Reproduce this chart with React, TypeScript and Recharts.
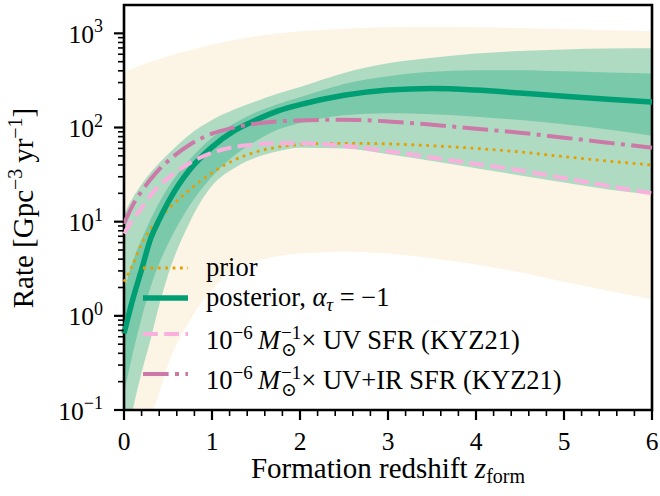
import React from 'react';
import { ComposedChart, Area, Line, XAxis, YAxis, ReferenceArea, Legend } from 'recharts';

// Formation redshift grid
const redshift = [0, 0.1, 0.2, 0.3, 0.4, 0.5, 0.75, 1, 1.25, 1.5, 1.75, 2, 2.5, 3, 3.5, 4, 4.5, 5, 5.5, 6];

// Prior: central curve and credible band
const priorMedian = [2.3, 3.5, 5.8, 8.3, 10.8, 13.5, 22, 33, 45, 55, 62, 66, 68, 67, 64, 60, 55, 49, 44, 40];
const priorLow = [0.02, 0.03, 0.045, 0.085, 0.15, 0.3, 0.9, 1.9, 3.1, 3.8, 4.3, 4.6, 4.8, 4.6, 4.1, 3.5, 2.9, 2.3, 1.85, 1.5];
const priorHigh = [390, 420, 460, 500, 530, 570, 660, 760, 850, 930, 1000, 1050, 1120, 1160, 1170, 1160, 1140, 1110, 1080, 1050];

// Posterior (alpha_tau = -1): median, inner and outer bands
const posteriorMedian = [0.65, 1.5, 3.1, 6.5, 10.5, 16, 36, 62, 92, 120, 150, 175, 220, 250, 260, 250, 232, 215, 200, 187];
const postInnerLow = [0.15, 0.4, 0.95, 2.0, 3.6, 5.8, 15, 30, 50, 72, 95, 112, 135, 142, 138, 130, 120, 108, 95, 82];
const postInnerHigh = [1.8, 3.8, 6.5, 10.5, 16, 23, 46, 78, 110, 145, 178, 210, 290, 350, 390, 405, 405, 395, 385, 375];
const postOuterLow = [0.03, 0.1, 0.25, 0.55, 1.3, 2.7, 10, 24, 37, 48, 56, 61, 60, 52, 44, 37, 31, 26, 22, 19.5];
const postOuterHigh = [12, 18, 25, 33, 42, 52, 85, 120, 155, 190, 230, 270, 380, 480, 550, 610, 650, 675, 690, 695];

// Scaled star-formation-rate histories (KYZ21)
const uvSfr = [7.5, 10.5, 14, 19, 24, 29, 42, 54, 62, 66, 68, 68, 64, 56, 48, 41, 35, 29, 24, 20];
const uvIrSfr = [9.5, 15, 21, 28, 36, 44, 66, 86, 100, 110, 116, 119, 121, 116, 107, 97, 88, 78, 69, 61];

// Axis ticks
const xMajorTicks = [0, 1, 2, 3, 4, 5, 6];
const yMajorTicks = [0.1, 1, 10, 100, 1000];

const xTicks: number[] = [];
for (let i = 0; i <= 30; i++) xTicks.push(Math.round(i * 2) / 10);
const yTicks: number[] = [];
for (const d of yMajorTicks) {
  for (let k = 1; k <= 9; k++) {
    const v = d * k;
    if (v < 2000) yTicks.push(v);
  }
}

const data = redshift.map((z, i) => ({
  z,
  prior: [priorLow[i], priorHigh[i]],
  outer: [postOuterLow[i], postOuterHigh[i]],
  inner: [postInnerLow[i], postInnerHigh[i]],
  priorMedian: priorMedian[i],
  posteriorMedian: posteriorMedian[i],
  uvSfr: uvSfr[i],
  uvIrSfr: uvIrSfr[i],
}));

const FONT = "'Liberation Serif', 'DejaVu Serif', serif";
const ORANGE = '#E69F00';
const GREEN = '#009E73';
const PINK = '#F9B0DD';
const PURPLE = '#CC79A7';

const PLOT_LEFT = 124;
const PLOT_BOTTOM = 410;

const isMajor = (v: number, majors: number[]) => majors.some((m) => Math.abs(m - v) < 1e-9 * Math.max(1, m));

function YTick(props: any) {
  const { y, payload } = props;
  const x = PLOT_LEFT;
  const v = payload.value as number;
  const major = isMajor(v, yMajorTicks);
  const len = major ? 10 : 6;
  const e = Math.round(Math.log10(v));
  const expText = e < 0 ? '\u2212' + Math.abs(e) : String(e);
  return (
    <g>
      <line x1={x - len} x2={x} y1={y} y2={y} stroke="#000" strokeWidth={major ? 2.2 : 1.6} />
      {major && (
        <text x={x - 21} y={y + 9.5} textAnchor="end" fontFamily={FONT} fontSize={25.5} fill="#000">
          10
          <tspan dy={-10.5} fontSize={18}>
            {expText}
          </tspan>
        </text>
      )}
    </g>
  );
}

function XTick(props: any) {
  const { x, payload } = props;
  const y = PLOT_BOTTOM;
  const v = payload.value as number;
  const major = isMajor(v, xMajorTicks);
  const len = major ? 10 : 6;
  return (
    <g>
      <line x1={x} x2={x} y1={y} y2={y + len} stroke="#000" strokeWidth={major ? 2.2 : 1.6} />
      {major && (
        <text x={x} y={y + 40} textAnchor="middle" fontFamily={FONT} fontSize={25.5} fill="#000">
          {String(Math.round(v))}
        </text>
      )}
    </g>
  );
}

function XLabel() {
  return (
    <text x={388} y={478} textAnchor="middle" fontFamily={FONT} fontSize={29} fill="#000">
      Formation redshift <tspan fontStyle="italic">z</tspan>
      <tspan dy={5} fontSize={20}>form</tspan>
    </text>
  );
}

function YLabel() {
  return (
    <text
      transform="translate(33, 208) rotate(-90)"
      textAnchor="middle"
      fontFamily={FONT}
      fontSize={29}
      fill="#000"
    >
      Rate [Gpc
      <tspan dy={-11} fontSize={20}>{'\u22123'}</tspan>
      <tspan dy={11}>{'\u2009yr'}</tspan>
      <tspan dy={-11} fontSize={20}>{'\u22121'}</tspan>
      <tspan dy={11}>]</tspan>
    </text>
  );
}

const sunUnit = (
  <>
    10
    <span style={{ fontSize: 19, verticalAlign: 10 }}>{'\u22126'}</span>
    {'\u2009'}
    <span style={{ fontStyle: 'italic' }}>M</span>
    <span
      style={{
        display: 'inline-flex',
        flexDirection: 'column',
        fontSize: 19,
        lineHeight: '17px',
        verticalAlign: 10,
        marginLeft: 1,
      }}
    >
      <span>{'\u22121'}</span>
      <span>{'\u2299'}</span>
    </span>
    {'\u00d7 '}
  </>
);

const legendRows = [
  { y: 268.3, stroke: ORANGE, width: 2.8, dash: '2.8 4.6', label: <>prior</> },
  {
    y: 298.3,
    stroke: GREEN,
    width: 5.5,
    dash: undefined,
    label: (
      <>
        posterior, <span style={{ fontStyle: 'italic' }}>α</span>
        <span style={{ fontStyle: 'italic', fontSize: 19, verticalAlign: -5 }}>τ</span> = −1
      </>
    ),
  },
  { y: 334.3, stroke: PINK, width: 4, dash: '14.8 6.4', label: <>{sunUnit}UV SFR (KYZ21)</> },
  { y: 374.3, stroke: PURPLE, width: 4, dash: '25.6 6.4 4 6.4', label: <>{sunUnit}UV+IR SFR (KYZ21)</> },
];

const LEGEND_FONT_SIZE = 26.5;
const LEGEND_BASELINE = 0.8375 * LEGEND_FONT_SIZE;

function LegendBox() {
  return (
    <div style={{ position: 'relative', width: 660, height: 496 }}>
      {legendRows.map((r, i) => (
        <React.Fragment key={i}>
          <svg style={{ position: 'absolute', left: 143, top: r.y - 5 }} width={45} height={10}>
            <line x1={0} x2={45} y1={5} y2={5} stroke={r.stroke} strokeWidth={r.width} strokeDasharray={r.dash} />
          </svg>
          <div
            style={{
              position: 'absolute',
              left: 206,
              top: r.y + 7.7 - LEGEND_BASELINE,
              fontFamily: FONT,
              fontSize: LEGEND_FONT_SIZE,
              lineHeight: `${LEGEND_FONT_SIZE}px`,
              whiteSpace: 'nowrap',
              color: '#000',
            }}
          >
            {r.label}
          </div>
        </React.Fragment>
      ))}
    </div>
  );
}

export default function App() {
  return (
    <div style={{ position: 'absolute', left: 0, top: 0, width: 660, height: 496, background: '#fff' }}>
      <ComposedChart width={660} height={496} data={data} margin={{ top: 5, right: 8, bottom: 0, left: 0 }}>
        <XAxis
          dataKey="z"
          type="number"
          domain={[0, 6]}
          ticks={xTicks}
          interval={0}
          height={86}
          tickSize={0}
          tickMargin={0}
          axisLine={false}
          tickLine={false}
          tick={<XTick />}
          label={<XLabel />}
        />
        <YAxis
          type="number"
          scale="log"
          domain={[0.1, 2000]}
          allowDataOverflow
          ticks={yTicks}
          interval={0}
          width={124}
          tickSize={0}
          tickMargin={0}
          axisLine={false}
          tickLine={false}
          tick={<YTick />}
          label={<YLabel />}
        />
        <Area dataKey="prior" type="monotone" stroke="none" fill={ORANGE} fillOpacity={0.1} isAnimationActive={false} />
        <Area dataKey="outer" type="monotone" stroke="none" fill={GREEN} fillOpacity={0.3} isAnimationActive={false} />
        <Area dataKey="inner" type="monotone" stroke="none" fill={GREEN} fillOpacity={0.3} isAnimationActive={false} />
        <Line
          dataKey="priorMedian"
          type="monotone"
          stroke={ORANGE}
          strokeWidth={2.8}
          strokeDasharray="2.8 4.6"
          dot={false}
          isAnimationActive={false}
        />
        <Line dataKey="posteriorMedian" type="monotone" stroke={GREEN} strokeWidth={5.5} dot={false} isAnimationActive={false} />
        <Line
          dataKey="uvSfr"
          type="monotone"
          stroke={PINK}
          strokeWidth={4}
          strokeDasharray="14.8 6.4"
          dot={false}
          isAnimationActive={false}
        />
        <Line
          dataKey="uvIrSfr"
          type="monotone"
          stroke={PURPLE}
          strokeWidth={4}
          strokeDasharray="25.6 6.4 4 6.4"
          dot={false}
          isAnimationActive={false}
        />
        <ReferenceArea x1={0} x2={6} y1={0.1} y2={2000} fill="none" stroke="#000" strokeWidth={2.6} ifOverflow="visible" />
        <Legend
          layout="horizontal"
          verticalAlign="middle"
          align="center"
          content={() => <LegendBox />}
          wrapperStyle={{ left: 0, top: 0, width: 660, height: 496, pointerEvents: 'none' }}
        />
      </ComposedChart>
    </div>
  );
}
